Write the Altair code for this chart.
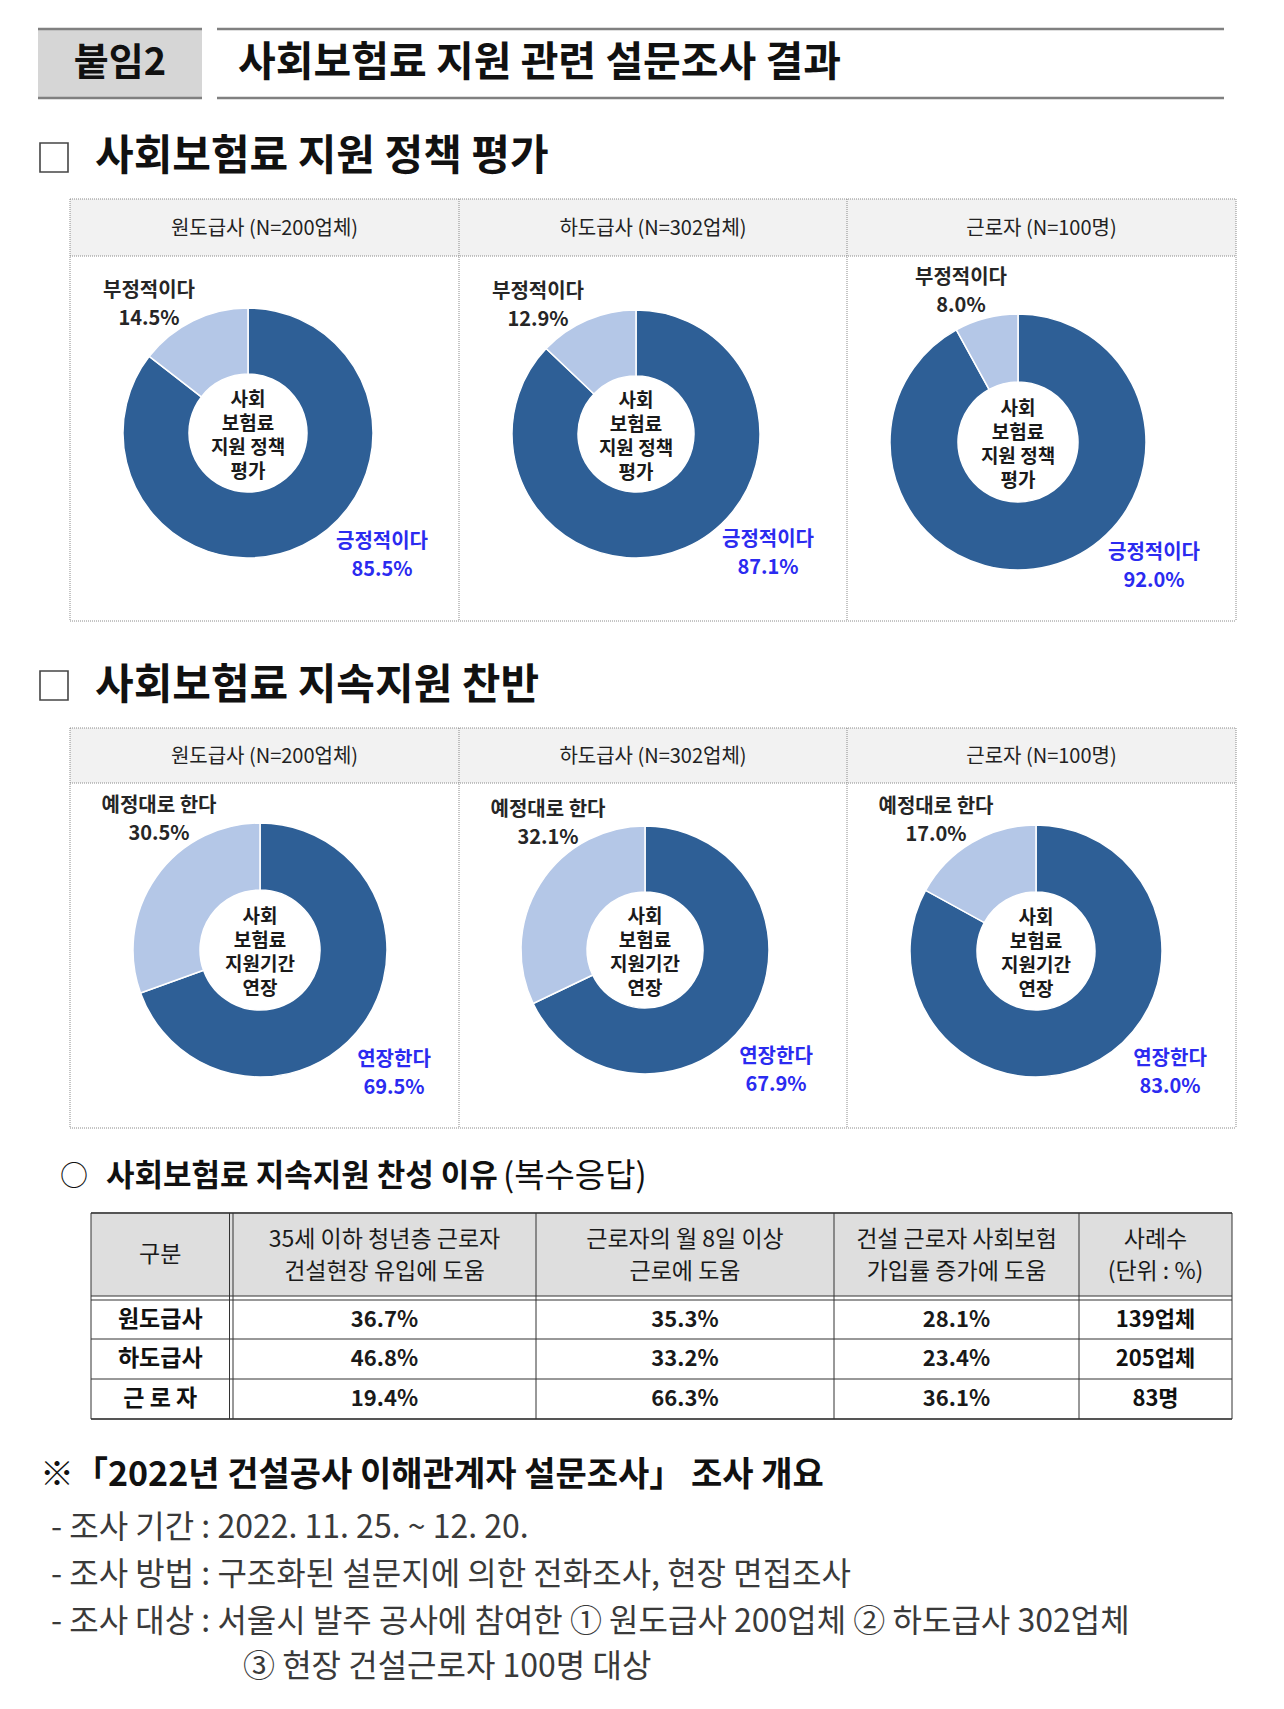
import math
import altair as alt
import pandas as pd

# ---------------- data ----------------
doc_tag = "붙임2"
doc_title = "사회보험료 지원 관련 설문조사 결과"
section_titles = ["사회보험료 지원 정책 평가", "사회보험료 지속지원 찬반"]
panel_titles = ["원도급사 (N=200업체)", "하도급사 (N=302업체)", "근로자 (N=100명)"]

policy_labels = ["긍정적이다", "부정적이다"]
policy_positive = [85.5, 87.1, 92.0]
policy_negative = [14.5, 12.9, 8.0]
policy_center = ["사회", "보험료", "지원 정책", "평가"]

extend_labels = ["연장한다", "예정대로 한다"]
extend_positive = [69.5, 67.9, 83.0]
extend_negative = [30.5, 32.1, 17.0]
extend_center = ["사회", "보험료", "지원기간", "연장"]

reason_bullet = "○"
reason_title = "사회보험료 지속지원 찬성 이유"
reason_note = "(복수응답)"
table_columns = [["구분"],
                 ["35세 이하 청년층 근로자", "건설현장 유입에 도움"],
                 ["근로자의 월 8일 이상", "근로에 도움"],
                 ["건설 근로자 사회보험", "가입률 증가에 도움"],
                 ["사례수", "(단위 : %)"]]
table_rows = ["원도급사", "하도급사", "근 로 자"]
reason_youth = [36.7, 46.8, 19.4]
reason_workdays = [35.3, 33.2, 66.3]
reason_insurance = [28.1, 23.4, 36.1]
case_counts = ["139업체", "205업체", "83명"]

survey_heading = "※「2022년 건설공사 이해관계자 설문조사」 조사 개요"
survey_lines = ["- 조사 기간 : 2022. 11. 25. ~ 12. 20.",
                "- 조사 방법 : 구조화된 설문지에 의한 전화조사, 현장 면접조사",
                "- 조사 대상 : 서울시 발주 공사에 참여한 ① 원도급사 200업체 ② 하도급사 302업체",
                "③ 현장 건설근로자 100명 대상"]

# ---------------- layout / style ----------------
OFF = 8
FONT = "Noto Sans CJK KR"
DARK = "#2e5f96"
LIGHT = "#b4c7e7"
BLUE = "#2b2bf0"
INK = "#1c1c1c"

layers = []


def sx(v):
    return v - OFF


def text_layer(rows, size, weight="normal", color=INK, align="center"):
    df = pd.DataFrame(rows, columns=["x", "y", "t"])
    df["x"] = df["x"] - OFF
    df["y"] = df["y"] - OFF
    return alt.Chart(df).mark_text(font=FONT, fontSize=size, fontWeight=weight, color=color,
                                   align=align, baseline="middle").encode(
        x=alt.X("x:Q", scale=None, axis=None),
        y=alt.Y("y:Q", scale=None, axis=None),
        text="t:N")


# filled rectangles
panel_x = [70, 459, 847, 1236]
panel_rows = [(199, 256, 621), (728, 783, 1128)]
rects = [dict(x=38, x2=202, y=29, y2=98, fill="#d6d6d6")]
for top, hb, bot in panel_rows:
    rects.append(dict(x=panel_x[0], x2=panel_x[-1], y=top, y2=hb, fill="#f2f2f2"))
tbl_x = [91, 229.5, 233, 536, 834, 1079, 1232]
tbl_y = dict(top=1213, hb1=1296, hb2=1300, r1=1339, r2=1379, bot=1419)
rects.append(dict(x=tbl_x[0], x2=tbl_x[-1], y=tbl_y["top"], y2=tbl_y["hb1"], fill="#dedede"))
rdf = pd.DataFrame(rects)
for c in ["x", "x2", "y", "y2"]:
    rdf[c] = rdf[c] - OFF
layers.append(alt.Chart(rdf).mark_rect().encode(
    x=alt.X("x:Q", scale=None, axis=None), x2="x2:Q",
    y=alt.Y("y:Q", scale=None, axis=None), y2="y2:Q",
    fill=alt.Fill("fill:N", scale=None)))

# checkboxes
boxes = pd.DataFrame([dict(x=40, x2=68, y=143, y2=172), dict(x=40, x2=68, y=671, y2=700)])
for c in ["x", "x2", "y", "y2"]:
    boxes[c] = boxes[c] - OFF
layers.append(alt.Chart(boxes).mark_rect(filled=False, stroke="#454545", strokeWidth=1.6).encode(
    x=alt.X("x:Q", scale=None, axis=None), x2="x2:Q",
    y=alt.Y("y:Q", scale=None, axis=None), y2="y2:Q"))

# solid lines
solid = []
for yy in (29, 98):
    solid.append(dict(x=38, x2=202, y=yy, y2=yy, c="#808080", w=2.5))
    solid.append(dict(x=217, x2=1224, y=yy, y2=yy, c="#808080", w=2.5))
for key, col, w in [("top", "#555555", 2), ("hb1", "#333333", 1), ("hb2", "#333333", 1),
                    ("r1", "#333333", 1), ("r2", "#333333", 1), ("bot", "#555555", 2)]:
    solid.append(dict(x=tbl_x[0], x2=tbl_x[-1], y=tbl_y[key], y2=tbl_y[key], c=col, w=w))
for xx in tbl_x:
    solid.append(dict(x=xx, x2=xx, y=tbl_y["top"], y2=tbl_y["bot"], c="#333333", w=1))
sdf = pd.DataFrame(solid)
for c in ["x", "x2", "y", "y2"]:
    sdf[c] = sdf[c] - OFF
layers.append(alt.Chart(sdf).mark_rule().encode(
    x=alt.X("x:Q", scale=None, axis=None), x2="x2:Q",
    y=alt.Y("y:Q", scale=None, axis=None), y2="y2:Q",
    color=alt.Color("c:N", scale=None), size=alt.Size("w:Q", scale=None)))

# dotted panel lines
dotted = []
for top, hb, bot in panel_rows:
    for yy in (top, hb, bot):
        dotted.append(dict(x=panel_x[0], x2=panel_x[-1], y=yy, y2=yy))
    for xx in panel_x:
        dotted.append(dict(x=xx, x2=xx, y=top, y2=bot))
ddf = pd.DataFrame(dotted)
for c in ["x", "x2", "y", "y2"]:
    ddf[c] = ddf[c] - OFF
layers.append(alt.Chart(ddf).mark_rule(color="#8a8a8a", strokeWidth=1, strokeDash=[1, 1]).encode(
    x=alt.X("x:Q", scale=None, axis=None), x2="x2:Q",
    y=alt.Y("y:Q", scale=None, axis=None), y2="y2:Q"))

# donuts
donut_layout = [(248, 433, 125), (636, 434, 124), (1018, 442, 128),
                (260, 950, 127), (645, 950, 124), (1036, 951, 126)]
neg_label_pos = [(149, 291), (538, 292), (961, 278), (159, 806), (548, 810), (936, 807)]
pos_label_pos = [(382, 542), (768, 540), (1154, 553), (394, 1060), (776, 1057), (1170, 1059)]

donut_sets = []
for i in range(3):
    donut_sets.append((policy_labels, policy_positive[i], policy_negative[i], policy_center))
for i in range(3):
    donut_sets.append((extend_labels, extend_positive[i], extend_negative[i], extend_center))

dark_rows, blue_rows, center_rows = [], [], []
for (cx, cy, r), (labs, pos, neg, center), (nx, ny), (px, py) in zip(
        donut_layout, donut_sets, neg_label_pos, pos_label_pos):
    df = pd.DataFrame({"cat": labs, "val": [pos, neg], "ord": [0, 1], "col": [DARK, LIGHT]})
    layers.append(alt.Chart(df).mark_arc(radius=r, radius2=round(r * 0.47), stroke="white",
                                         strokeWidth=1.5).encode(
        theta=alt.Theta("val:Q", stack=True, scale=alt.Scale(domain=[0, 100], range=[0, 2 * math.pi])),
        order=alt.Order("ord:Q"),
        fill=alt.Fill("col:N", scale=None),
        x=alt.value(sx(cx)), y=alt.value(sx(cy))))
    dark_rows.append((nx, ny, labs[1]))
    dark_rows.append((nx, ny + 28, f"{neg:.1f}%"))
    blue_rows.append((px, py, labs[0]))
    blue_rows.append((px, py + 28, f"{pos:.1f}%"))
    for k, line in enumerate(center):
        center_rows.append((cx, cy + 3 - 36 + 24 * k, line))

layers.append(text_layer(dark_rows, 20, "bold", "#262626"))
layers.append(text_layer(blue_rows, 20, "bold", BLUE))
layers.append(text_layer(center_rows, 19, "bold", "#1a1a1a"))

# titles
layers.append(text_layer([(120, 64, doc_tag)], 38, "bold", "#111111"))
layers.append(text_layer([(238, 64, doc_title)], 41, "bold", "#111111", align="left"))
layers.append(text_layer([(95, 157, section_titles[0]), (95, 686, section_titles[1])],
                         42, "bold", "#111111", align="left"))

# panel headers
hdr_rows = []
for top, hb, bot in panel_rows:
    for j, t in enumerate(panel_titles):
        hdr_rows.append(((panel_x[j] + panel_x[j + 1]) / 2, (top + hb) / 2 + 1, t))
layers.append(text_layer(hdr_rows, 20, "normal", "#222222"))

# reason heading
layers.append(text_layer([(60, 1178, reason_bullet)], 28, "normal", "#111111", align="left"))
layers.append(text_layer([(106, 1177, reason_title)], 31, "bold", "#111111", align="left"))
layers.append(text_layer([(503, 1177, reason_note)], 33, "normal", "#111111", align="left"))

# table
col_centers = [(tbl_x[0] + tbl_x[1]) / 2, (tbl_x[2] + tbl_x[3]) / 2, (tbl_x[3] + tbl_x[4]) / 2,
               (tbl_x[4] + tbl_x[5]) / 2, (tbl_x[5] + tbl_x[6]) / 2]
head_rows = []
for cxx, lines in zip(col_centers, table_columns):
    if len(lines) == 1:
        head_rows.append((cxx, 1255, lines[0]))
    else:
        head_rows.append((cxx, 1240, lines[0]))
        head_rows.append((cxx, 1272, lines[1]))
layers.append(text_layer(head_rows, 23, "normal", "#1a1a1a"))

row_y = [(tbl_y["hb2"] + tbl_y["r1"]) / 2, (tbl_y["r1"] + tbl_y["r2"]) / 2, (tbl_y["r2"] + tbl_y["bot"]) / 2]
label_rows, value_rows, count_rows = [], [], []
for i in range(3):
    label_rows.append((col_centers[0], row_y[i], table_rows[i]))
    for j, series in enumerate([reason_youth, reason_workdays, reason_insurance]):
        value_rows.append((col_centers[j + 1], row_y[i], f"{series[i]:.1f}%"))
    count_rows.append((col_centers[4], row_y[i], case_counts[i]))
layers.append(text_layer(label_rows, 23, "bold", "#111111"))
layers.append(text_layer(value_rows, 22, "bold", "#1a1a1a"))
layers.append(text_layer(count_rows, 22, "bold", "#111111"))

# survey notes
layers.append(text_layer([(40, 1476, survey_heading)], 34, "bold", "#111111", align="left"))
note_pos = [(51, 1528), (51, 1575), (51, 1622), (243, 1667)]
layers.append(text_layer([(x, y, t) for (x, y), t in zip(note_pos, survey_lines)],
                         32, "normal", "#3a3a3a", align="left"))

chart = alt.layer(*layers).properties(
    width=1268, height=1685, padding=0,
    autosize=alt.AutoSizeParams(type="none")
).configure_view(stroke=None)

chart.save("out.html", embed_options={"renderer": "svg", "actions": False})
